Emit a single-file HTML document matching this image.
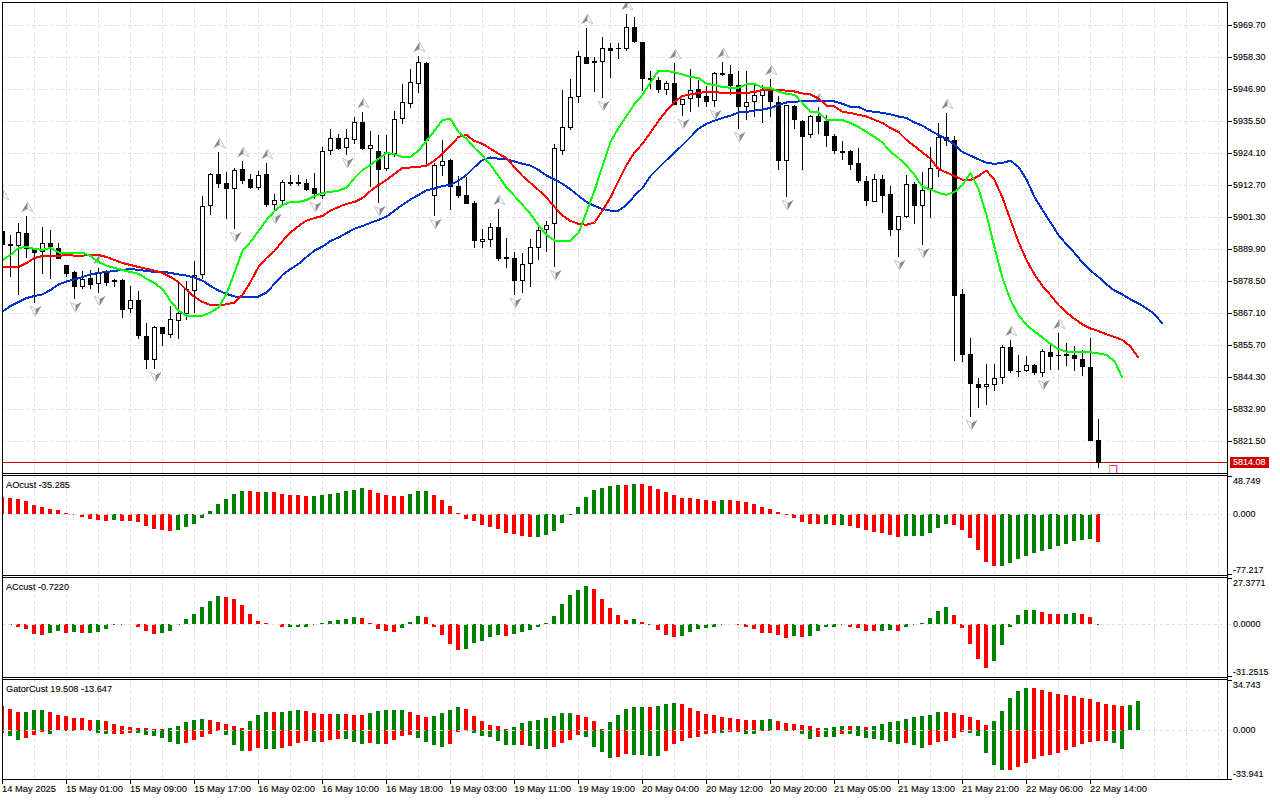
<!DOCTYPE html><html><head><meta charset="utf-8"><title>Chart</title><style>html,body{margin:0;padding:0;background:#fff;overflow:hidden}svg{display:block}text{font-family:"Liberation Sans",sans-serif;font-size:9.5px;fill:#000;stroke:#000;stroke-width:0.1px}</style></head><body>
<svg width="1280" height="800" viewBox="0 0 1280 800">
<rect width="1280" height="800" fill="#fff"/>
<g stroke="#dedede" stroke-width="1" stroke-dasharray="3 3" shape-rendering="crispEdges" fill="none">
<path d="M34.5 2V473"/>
<path d="M66.5 2V473"/>
<path d="M98.5 2V473"/>
<path d="M130.5 2V473"/>
<path d="M162.5 2V473"/>
<path d="M194.5 2V473"/>
<path d="M226.5 2V473"/>
<path d="M258.5 2V473"/>
<path d="M290.5 2V473"/>
<path d="M322.5 2V473"/>
<path d="M354.5 2V473"/>
<path d="M386.5 2V473"/>
<path d="M418.5 2V473"/>
<path d="M450.5 2V473"/>
<path d="M482.5 2V473"/>
<path d="M514.5 2V473"/>
<path d="M546.5 2V473"/>
<path d="M578.5 2V473"/>
<path d="M610.5 2V473"/>
<path d="M642.5 2V473"/>
<path d="M674.5 2V473"/>
<path d="M706.5 2V473"/>
<path d="M738.5 2V473"/>
<path d="M770.5 2V473"/>
<path d="M802.5 2V473"/>
<path d="M834.5 2V473"/>
<path d="M866.5 2V473"/>
<path d="M898.5 2V473"/>
<path d="M930.5 2V473"/>
<path d="M962.5 2V473"/>
<path d="M994.5 2V473"/>
<path d="M1026.5 2V473"/>
<path d="M1058.5 2V473"/>
<path d="M1090.5 2V473"/>
<path d="M1122.5 2V473"/>
<path d="M1154.5 2V473"/>
<path d="M1186.5 2V473"/>
<path d="M1218.5 2V473"/>
<path d="M34.5 475V575"/>
<path d="M66.5 475V575"/>
<path d="M98.5 475V575"/>
<path d="M130.5 475V575"/>
<path d="M162.5 475V575"/>
<path d="M194.5 475V575"/>
<path d="M226.5 475V575"/>
<path d="M258.5 475V575"/>
<path d="M290.5 475V575"/>
<path d="M322.5 475V575"/>
<path d="M354.5 475V575"/>
<path d="M386.5 475V575"/>
<path d="M418.5 475V575"/>
<path d="M450.5 475V575"/>
<path d="M482.5 475V575"/>
<path d="M514.5 475V575"/>
<path d="M546.5 475V575"/>
<path d="M578.5 475V575"/>
<path d="M610.5 475V575"/>
<path d="M642.5 475V575"/>
<path d="M674.5 475V575"/>
<path d="M706.5 475V575"/>
<path d="M738.5 475V575"/>
<path d="M770.5 475V575"/>
<path d="M802.5 475V575"/>
<path d="M834.5 475V575"/>
<path d="M866.5 475V575"/>
<path d="M898.5 475V575"/>
<path d="M930.5 475V575"/>
<path d="M962.5 475V575"/>
<path d="M994.5 475V575"/>
<path d="M1026.5 475V575"/>
<path d="M1058.5 475V575"/>
<path d="M1090.5 475V575"/>
<path d="M1122.5 475V575"/>
<path d="M1154.5 475V575"/>
<path d="M1186.5 475V575"/>
<path d="M1218.5 475V575"/>
<path d="M34.5 577V677"/>
<path d="M66.5 577V677"/>
<path d="M98.5 577V677"/>
<path d="M130.5 577V677"/>
<path d="M162.5 577V677"/>
<path d="M194.5 577V677"/>
<path d="M226.5 577V677"/>
<path d="M258.5 577V677"/>
<path d="M290.5 577V677"/>
<path d="M322.5 577V677"/>
<path d="M354.5 577V677"/>
<path d="M386.5 577V677"/>
<path d="M418.5 577V677"/>
<path d="M450.5 577V677"/>
<path d="M482.5 577V677"/>
<path d="M514.5 577V677"/>
<path d="M546.5 577V677"/>
<path d="M578.5 577V677"/>
<path d="M610.5 577V677"/>
<path d="M642.5 577V677"/>
<path d="M674.5 577V677"/>
<path d="M706.5 577V677"/>
<path d="M738.5 577V677"/>
<path d="M770.5 577V677"/>
<path d="M802.5 577V677"/>
<path d="M834.5 577V677"/>
<path d="M866.5 577V677"/>
<path d="M898.5 577V677"/>
<path d="M930.5 577V677"/>
<path d="M962.5 577V677"/>
<path d="M994.5 577V677"/>
<path d="M1026.5 577V677"/>
<path d="M1058.5 577V677"/>
<path d="M1090.5 577V677"/>
<path d="M1122.5 577V677"/>
<path d="M1154.5 577V677"/>
<path d="M1186.5 577V677"/>
<path d="M1218.5 577V677"/>
<path d="M34.5 679V779"/>
<path d="M66.5 679V779"/>
<path d="M98.5 679V779"/>
<path d="M130.5 679V779"/>
<path d="M162.5 679V779"/>
<path d="M194.5 679V779"/>
<path d="M226.5 679V779"/>
<path d="M258.5 679V779"/>
<path d="M290.5 679V779"/>
<path d="M322.5 679V779"/>
<path d="M354.5 679V779"/>
<path d="M386.5 679V779"/>
<path d="M418.5 679V779"/>
<path d="M450.5 679V779"/>
<path d="M482.5 679V779"/>
<path d="M514.5 679V779"/>
<path d="M546.5 679V779"/>
<path d="M578.5 679V779"/>
<path d="M610.5 679V779"/>
<path d="M642.5 679V779"/>
<path d="M674.5 679V779"/>
<path d="M706.5 679V779"/>
<path d="M738.5 679V779"/>
<path d="M770.5 679V779"/>
<path d="M802.5 679V779"/>
<path d="M834.5 679V779"/>
<path d="M866.5 679V779"/>
<path d="M898.5 679V779"/>
<path d="M930.5 679V779"/>
<path d="M962.5 679V779"/>
<path d="M994.5 679V779"/>
<path d="M1026.5 679V779"/>
<path d="M1058.5 679V779"/>
<path d="M1090.5 679V779"/>
<path d="M1122.5 679V779"/>
<path d="M1154.5 679V779"/>
<path d="M1186.5 679V779"/>
<path d="M1218.5 679V779"/>
<path d="M2 25.5H1227"/>
<path d="M2 57.5H1227"/>
<path d="M2 89.5H1227"/>
<path d="M2 121.5H1227"/>
<path d="M2 153.5H1227"/>
<path d="M2 185.5H1227"/>
<path d="M2 217.5H1227"/>
<path d="M2 249.5H1227"/>
<path d="M2 281.5H1227"/>
<path d="M2 313.5H1227"/>
<path d="M2 345.5H1227"/>
<path d="M2 377.5H1227"/>
<path d="M2 409.5H1227"/>
<path d="M2 441.5H1227"/>
</g>
<rect x="3" y="462" width="1224" height="1" fill="#d00000" shape-rendering="crispEdges"/>
<g shape-rendering="crispEdges" fill="#000">
<rect x="2" y="231" width="1" height="14"/>
<rect x="0" y="231" width="5" height="14"/>
<rect x="10" y="235" width="1" height="42"/>
<rect x="8" y="244" width="5" height="2"/>
<rect x="18" y="223" width="1" height="72"/>
<rect x="16" y="232" width="5" height="14"/><rect x="17" y="233" width="3" height="12" fill="#fff"/>
<rect x="26" y="216" width="1" height="42"/>
<rect x="24" y="233" width="5" height="16"/>
<rect x="34" y="248" width="1" height="55"/>
<rect x="32" y="248" width="5" height="5"/>
<rect x="42" y="227" width="1" height="47"/>
<rect x="40" y="243" width="5" height="9"/><rect x="41" y="244" width="3" height="7" fill="#fff"/>
<rect x="50" y="230" width="1" height="49"/>
<rect x="48" y="243" width="5" height="4"/>
<rect x="58" y="243" width="1" height="16"/>
<rect x="56" y="248" width="5" height="11"/>
<rect x="66" y="265" width="1" height="12"/>
<rect x="64" y="265" width="5" height="9"/>
<rect x="74" y="271" width="1" height="28"/>
<rect x="72" y="272" width="5" height="15"/>
<rect x="82" y="271" width="1" height="18"/>
<rect x="80" y="279" width="5" height="8"/><rect x="81" y="280" width="3" height="6" fill="#fff"/>
<rect x="90" y="270" width="1" height="19"/>
<rect x="88" y="278" width="5" height="7"/>
<rect x="98" y="268" width="1" height="25"/>
<rect x="96" y="272" width="5" height="12"/><rect x="97" y="273" width="3" height="10" fill="#fff"/>
<rect x="106" y="270" width="1" height="16"/>
<rect x="104" y="273" width="5" height="10"/>
<rect x="114" y="279" width="1" height="8"/>
<rect x="112" y="280" width="5" height="2"/>
<rect x="122" y="279" width="1" height="39"/>
<rect x="120" y="280" width="5" height="30"/>
<rect x="130" y="286" width="1" height="27"/>
<rect x="128" y="300" width="5" height="9"/><rect x="129" y="301" width="3" height="7" fill="#fff"/>
<rect x="138" y="291" width="1" height="48"/>
<rect x="136" y="300" width="5" height="36"/>
<rect x="146" y="323" width="1" height="46"/>
<rect x="144" y="336" width="5" height="24"/>
<rect x="154" y="326" width="1" height="43"/>
<rect x="152" y="327" width="5" height="33"/><rect x="153" y="328" width="3" height="31" fill="#fff"/>
<rect x="162" y="327" width="1" height="19"/>
<rect x="160" y="327" width="5" height="7"/>
<rect x="170" y="306" width="1" height="32"/>
<rect x="168" y="319" width="5" height="16"/><rect x="169" y="320" width="3" height="14" fill="#fff"/>
<rect x="178" y="283" width="1" height="56"/>
<rect x="176" y="313" width="5" height="8"/><rect x="177" y="314" width="3" height="6" fill="#fff"/>
<rect x="186" y="281" width="1" height="39"/>
<rect x="184" y="289" width="5" height="25"/><rect x="185" y="290" width="3" height="23" fill="#fff"/>
<rect x="194" y="261" width="1" height="52"/>
<rect x="192" y="275" width="5" height="16"/><rect x="193" y="276" width="3" height="14" fill="#fff"/>
<rect x="202" y="196" width="1" height="83"/>
<rect x="200" y="206" width="5" height="69"/><rect x="201" y="207" width="3" height="67" fill="#fff"/>
<rect x="210" y="173" width="1" height="42"/>
<rect x="208" y="174" width="5" height="32"/><rect x="209" y="175" width="3" height="30" fill="#fff"/>
<rect x="218" y="152" width="1" height="36"/>
<rect x="216" y="174" width="5" height="10"/>
<rect x="226" y="172" width="1" height="47"/>
<rect x="224" y="183" width="5" height="6"/>
<rect x="234" y="168" width="1" height="61"/>
<rect x="232" y="170" width="5" height="19"/><rect x="233" y="171" width="3" height="17" fill="#fff"/>
<rect x="242" y="161" width="1" height="23"/>
<rect x="240" y="169" width="5" height="12"/>
<rect x="250" y="174" width="1" height="15"/>
<rect x="248" y="179" width="5" height="9"/>
<rect x="258" y="171" width="1" height="19"/>
<rect x="256" y="175" width="5" height="13"/><rect x="257" y="176" width="3" height="11" fill="#fff"/>
<rect x="266" y="163" width="1" height="44"/>
<rect x="264" y="174" width="5" height="31"/>
<rect x="274" y="194" width="1" height="17"/>
<rect x="272" y="200" width="5" height="5"/><rect x="273" y="201" width="3" height="3" fill="#fff"/>
<rect x="282" y="180" width="1" height="25"/>
<rect x="280" y="182" width="5" height="19"/><rect x="281" y="183" width="3" height="17" fill="#fff"/>
<rect x="290" y="175" width="1" height="11"/>
<rect x="288" y="182" width="5" height="2"/>
<rect x="298" y="175" width="1" height="11"/>
<rect x="296" y="182" width="5" height="2"/>
<rect x="306" y="179" width="1" height="12"/>
<rect x="304" y="183" width="5" height="7"/>
<rect x="314" y="173" width="1" height="26"/>
<rect x="312" y="188" width="5" height="6"/>
<rect x="322" y="147" width="1" height="52"/>
<rect x="320" y="151" width="5" height="45"/><rect x="321" y="152" width="3" height="43" fill="#fff"/>
<rect x="330" y="129" width="1" height="26"/>
<rect x="328" y="138" width="5" height="13"/><rect x="329" y="139" width="3" height="11" fill="#fff"/>
<rect x="338" y="134" width="1" height="16"/>
<rect x="336" y="138" width="5" height="11"/>
<rect x="346" y="129" width="1" height="26"/>
<rect x="344" y="138" width="5" height="10"/><rect x="345" y="139" width="3" height="8" fill="#fff"/>
<rect x="354" y="117" width="1" height="27"/>
<rect x="352" y="122" width="5" height="18"/><rect x="353" y="123" width="3" height="16" fill="#fff"/>
<rect x="362" y="112" width="1" height="38"/>
<rect x="360" y="122" width="5" height="27"/>
<rect x="370" y="131" width="1" height="56"/>
<rect x="368" y="145" width="5" height="4"/><rect x="369" y="146" width="3" height="2" fill="#fff"/>
<rect x="378" y="135" width="1" height="68"/>
<rect x="376" y="151" width="5" height="19"/>
<rect x="386" y="135" width="1" height="36"/>
<rect x="384" y="152" width="5" height="17"/><rect x="385" y="153" width="3" height="15" fill="#fff"/>
<rect x="394" y="111" width="1" height="46"/>
<rect x="392" y="119" width="5" height="35"/><rect x="393" y="120" width="3" height="33" fill="#fff"/>
<rect x="402" y="84" width="1" height="40"/>
<rect x="400" y="102" width="5" height="17"/><rect x="401" y="103" width="3" height="15" fill="#fff"/>
<rect x="410" y="69" width="1" height="39"/>
<rect x="408" y="82" width="5" height="22"/><rect x="409" y="83" width="3" height="20" fill="#fff"/>
<rect x="418" y="56" width="1" height="37"/>
<rect x="416" y="62" width="5" height="22"/><rect x="417" y="63" width="3" height="20" fill="#fff"/>
<rect x="426" y="62" width="1" height="102"/>
<rect x="424" y="63" width="5" height="78"/>
<rect x="434" y="163" width="1" height="53"/>
<rect x="432" y="165" width="5" height="31"/><rect x="433" y="166" width="3" height="29" fill="#fff"/>
<rect x="442" y="140" width="1" height="36"/>
<rect x="440" y="161" width="5" height="5"/><rect x="441" y="162" width="3" height="3" fill="#fff"/>
<rect x="450" y="159" width="1" height="51"/>
<rect x="448" y="160" width="5" height="27"/>
<rect x="458" y="176" width="1" height="22"/>
<rect x="456" y="186" width="5" height="10"/>
<rect x="466" y="177" width="1" height="27"/>
<rect x="464" y="195" width="5" height="9"/>
<rect x="474" y="201" width="1" height="47"/>
<rect x="472" y="203" width="5" height="38"/>
<rect x="482" y="229" width="1" height="19"/>
<rect x="480" y="239" width="5" height="3"/><rect x="481" y="240" width="3" height="1" fill="#fff"/>
<rect x="490" y="223" width="1" height="24"/>
<rect x="488" y="227" width="5" height="13"/><rect x="489" y="228" width="3" height="11" fill="#fff"/>
<rect x="498" y="209" width="1" height="52"/>
<rect x="496" y="227" width="5" height="32"/>
<rect x="506" y="238" width="1" height="30"/>
<rect x="504" y="257" width="5" height="2"/>
<rect x="514" y="252" width="1" height="43"/>
<rect x="512" y="258" width="5" height="23"/>
<rect x="522" y="253" width="1" height="40"/>
<rect x="520" y="264" width="5" height="17"/><rect x="521" y="265" width="3" height="15" fill="#fff"/>
<rect x="530" y="239" width="1" height="48"/>
<rect x="528" y="247" width="5" height="17"/><rect x="529" y="248" width="3" height="15" fill="#fff"/>
<rect x="538" y="224" width="1" height="36"/>
<rect x="536" y="230" width="5" height="18"/><rect x="537" y="231" width="3" height="16" fill="#fff"/>
<rect x="546" y="221" width="1" height="31"/>
<rect x="544" y="225" width="5" height="5"/><rect x="545" y="226" width="3" height="3" fill="#fff"/>
<rect x="554" y="144" width="1" height="123"/>
<rect x="552" y="148" width="5" height="76"/><rect x="553" y="149" width="3" height="74" fill="#fff"/>
<rect x="562" y="90" width="1" height="65"/>
<rect x="560" y="127" width="5" height="24"/><rect x="561" y="128" width="3" height="22" fill="#fff"/>
<rect x="570" y="79" width="1" height="51"/>
<rect x="568" y="97" width="5" height="31"/><rect x="569" y="98" width="3" height="29" fill="#fff"/>
<rect x="578" y="51" width="1" height="52"/>
<rect x="576" y="56" width="5" height="41"/><rect x="577" y="57" width="3" height="39" fill="#fff"/>
<rect x="586" y="28" width="1" height="36"/>
<rect x="584" y="57" width="5" height="7"/>
<rect x="594" y="57" width="1" height="35"/>
<rect x="592" y="61" width="5" height="2"/>
<rect x="602" y="37" width="1" height="61"/>
<rect x="600" y="48" width="5" height="14"/><rect x="601" y="49" width="3" height="12" fill="#fff"/>
<rect x="610" y="43" width="1" height="35"/>
<rect x="608" y="48" width="5" height="3"/>
<rect x="618" y="43" width="1" height="16"/>
<rect x="616" y="48" width="5" height="1"/>
<rect x="626" y="14" width="1" height="37"/>
<rect x="624" y="27" width="5" height="22"/><rect x="625" y="28" width="3" height="20" fill="#fff"/>
<rect x="634" y="17" width="1" height="26"/>
<rect x="632" y="27" width="5" height="15"/>
<rect x="642" y="42" width="1" height="49"/>
<rect x="640" y="42" width="5" height="37"/>
<rect x="650" y="71" width="1" height="18"/>
<rect x="648" y="78" width="5" height="2"/>
<rect x="658" y="77" width="1" height="16"/>
<rect x="656" y="80" width="5" height="10"/>
<rect x="666" y="81" width="1" height="14"/>
<rect x="664" y="83" width="5" height="7"/><rect x="665" y="84" width="3" height="5" fill="#fff"/>
<rect x="674" y="63" width="1" height="42"/>
<rect x="672" y="83" width="5" height="22"/>
<rect x="682" y="99" width="1" height="17"/>
<rect x="680" y="99" width="5" height="6"/><rect x="681" y="100" width="3" height="4" fill="#fff"/>
<rect x="690" y="69" width="1" height="43"/>
<rect x="688" y="90" width="5" height="9"/><rect x="689" y="91" width="3" height="7" fill="#fff"/>
<rect x="698" y="80" width="1" height="27"/>
<rect x="696" y="89" width="5" height="9"/>
<rect x="706" y="86" width="1" height="21"/>
<rect x="704" y="96" width="5" height="6"/>
<rect x="714" y="72" width="1" height="35"/>
<rect x="712" y="73" width="5" height="28"/><rect x="713" y="74" width="3" height="26" fill="#fff"/>
<rect x="722" y="62" width="1" height="14"/>
<rect x="720" y="73" width="5" height="2"/>
<rect x="730" y="65" width="1" height="30"/>
<rect x="728" y="74" width="5" height="12"/>
<rect x="738" y="71" width="1" height="58"/>
<rect x="736" y="85" width="5" height="22"/>
<rect x="746" y="71" width="1" height="49"/>
<rect x="744" y="102" width="5" height="5"/><rect x="745" y="103" width="3" height="3" fill="#fff"/>
<rect x="754" y="85" width="1" height="32"/>
<rect x="752" y="95" width="5" height="7"/><rect x="753" y="96" width="3" height="5" fill="#fff"/>
<rect x="762" y="85" width="1" height="38"/>
<rect x="760" y="90" width="5" height="6"/><rect x="761" y="91" width="3" height="4" fill="#fff"/>
<rect x="770" y="79" width="1" height="38"/>
<rect x="768" y="91" width="5" height="11"/>
<rect x="778" y="96" width="1" height="74"/>
<rect x="776" y="102" width="5" height="59"/>
<rect x="786" y="105" width="1" height="92"/>
<rect x="784" y="105" width="5" height="56"/><rect x="785" y="106" width="3" height="54" fill="#fff"/>
<rect x="794" y="105" width="1" height="24"/>
<rect x="792" y="106" width="5" height="14"/>
<rect x="802" y="120" width="1" height="50"/>
<rect x="800" y="121" width="5" height="16"/>
<rect x="810" y="115" width="1" height="23"/>
<rect x="808" y="116" width="5" height="19"/><rect x="809" y="117" width="3" height="17" fill="#fff"/>
<rect x="818" y="107" width="1" height="27"/>
<rect x="816" y="116" width="5" height="6"/>
<rect x="826" y="115" width="1" height="32"/>
<rect x="824" y="121" width="5" height="15"/>
<rect x="834" y="134" width="1" height="20"/>
<rect x="832" y="136" width="5" height="15"/>
<rect x="842" y="141" width="1" height="19"/>
<rect x="840" y="151" width="5" height="2"/>
<rect x="850" y="150" width="1" height="20"/>
<rect x="848" y="151" width="5" height="14"/>
<rect x="858" y="148" width="1" height="35"/>
<rect x="856" y="163" width="5" height="18"/>
<rect x="866" y="176" width="1" height="30"/>
<rect x="864" y="181" width="5" height="20"/>
<rect x="874" y="174" width="1" height="28"/>
<rect x="872" y="179" width="5" height="23"/><rect x="873" y="180" width="3" height="21" fill="#fff"/>
<rect x="882" y="175" width="1" height="38"/>
<rect x="880" y="179" width="5" height="17"/>
<rect x="890" y="186" width="1" height="50"/>
<rect x="888" y="194" width="5" height="36"/>
<rect x="898" y="216" width="1" height="41"/>
<rect x="896" y="216" width="5" height="14"/><rect x="897" y="217" width="3" height="12" fill="#fff"/>
<rect x="906" y="175" width="1" height="43"/>
<rect x="904" y="184" width="5" height="33"/><rect x="905" y="185" width="3" height="31" fill="#fff"/>
<rect x="914" y="182" width="1" height="42"/>
<rect x="912" y="184" width="5" height="22"/>
<rect x="922" y="172" width="1" height="73"/>
<rect x="920" y="190" width="5" height="16"/><rect x="921" y="191" width="3" height="14" fill="#fff"/>
<rect x="930" y="147" width="1" height="71"/>
<rect x="928" y="168" width="5" height="21"/><rect x="929" y="169" width="3" height="19" fill="#fff"/>
<rect x="938" y="123" width="1" height="54"/>
<rect x="936" y="137" width="5" height="32"/><rect x="937" y="138" width="3" height="30" fill="#fff"/>
<rect x="946" y="113" width="1" height="33"/>
<rect x="944" y="137" width="5" height="4"/>
<rect x="954" y="136" width="1" height="225"/>
<rect x="952" y="140" width="5" height="156"/>
<rect x="962" y="289" width="1" height="73"/>
<rect x="960" y="294" width="5" height="61"/>
<rect x="970" y="338" width="1" height="79"/>
<rect x="968" y="354" width="5" height="30"/>
<rect x="978" y="378" width="1" height="30"/>
<rect x="976" y="384" width="5" height="4"/>
<rect x="986" y="364" width="1" height="41"/>
<rect x="984" y="384" width="5" height="3"/><rect x="985" y="385" width="3" height="1" fill="#fff"/>
<rect x="994" y="364" width="1" height="27"/>
<rect x="992" y="378" width="5" height="7"/><rect x="993" y="379" width="3" height="5" fill="#fff"/>
<rect x="1002" y="345" width="1" height="39"/>
<rect x="1000" y="347" width="5" height="31"/><rect x="1001" y="348" width="3" height="29" fill="#fff"/>
<rect x="1010" y="340" width="1" height="33"/>
<rect x="1008" y="347" width="5" height="24"/>
<rect x="1018" y="355" width="1" height="22"/>
<rect x="1016" y="371" width="5" height="1"/>
<rect x="1026" y="356" width="1" height="16"/>
<rect x="1024" y="365" width="5" height="6"/><rect x="1025" y="366" width="3" height="4" fill="#fff"/>
<rect x="1034" y="364" width="1" height="11"/>
<rect x="1032" y="365" width="5" height="8"/>
<rect x="1042" y="349" width="1" height="28"/>
<rect x="1040" y="351" width="5" height="22"/><rect x="1041" y="352" width="3" height="20" fill="#fff"/>
<rect x="1050" y="344" width="1" height="26"/>
<rect x="1048" y="352" width="5" height="5"/>
<rect x="1058" y="333" width="1" height="37"/>
<rect x="1056" y="355" width="5" height="1"/>
<rect x="1066" y="343" width="1" height="23"/>
<rect x="1064" y="354" width="5" height="2"/>
<rect x="1074" y="346" width="1" height="25"/>
<rect x="1072" y="355" width="5" height="4"/>
<rect x="1082" y="350" width="1" height="26"/>
<rect x="1080" y="359" width="5" height="8"/>
<rect x="1090" y="338" width="1" height="103"/>
<rect x="1088" y="367" width="5" height="74"/>
<rect x="1098" y="419" width="1" height="49"/>
<rect x="1096" y="440" width="5" height="23"/>
</g>
<clipPath id="mc"><rect x="3" y="3" width="1224" height="470"/></clipPath><g clip-path="url(#mc)">
<path d="M3.5 190L-2.7 200L3.5 197Z" fill="#8a8a8a"/><path d="M3.5 190L9.0 200L3.5 197" fill="none" stroke="#c0c0d0" stroke-width="0.9"/>
<path d="M27.5 202L21.3 212L27.5 209Z" fill="#8a8a8a"/><path d="M27.5 202L33.0 212L27.5 209" fill="none" stroke="#c0c0d0" stroke-width="0.9"/>
<path d="M99.5 254L93.3 264L99.5 261Z" fill="#8a8a8a"/><path d="M99.5 254L105.0 264L99.5 261" fill="none" stroke="#c0c0d0" stroke-width="0.9"/>
<path d="M219.5 138L213.3 148L219.5 145Z" fill="#8a8a8a"/><path d="M219.5 138L225.0 148L219.5 145" fill="none" stroke="#c0c0d0" stroke-width="0.9"/>
<path d="M243.5 147L237.3 157L243.5 154Z" fill="#8a8a8a"/><path d="M243.5 147L249.0 157L243.5 154" fill="none" stroke="#c0c0d0" stroke-width="0.9"/>
<path d="M267.5 149L261.3 159L267.5 156Z" fill="#8a8a8a"/><path d="M267.5 149L273.0 159L267.5 156" fill="none" stroke="#c0c0d0" stroke-width="0.9"/>
<path d="M363.5 98L357.3 108L363.5 105Z" fill="#8a8a8a"/><path d="M363.5 98L369.0 108L363.5 105" fill="none" stroke="#c0c0d0" stroke-width="0.9"/>
<path d="M419.5 42L413.3 52L419.5 49Z" fill="#8a8a8a"/><path d="M419.5 42L425.0 52L419.5 49" fill="none" stroke="#c0c0d0" stroke-width="0.9"/>
<path d="M499.5 195L493.3 205L499.5 202Z" fill="#8a8a8a"/><path d="M499.5 195L505.0 205L499.5 202" fill="none" stroke="#c0c0d0" stroke-width="0.9"/>
<path d="M587.5 14L581.3 24L587.5 21Z" fill="#8a8a8a"/><path d="M587.5 14L593.0 24L587.5 21" fill="none" stroke="#c0c0d0" stroke-width="0.9"/>
<path d="M627.5 0L621.3 10L627.5 7Z" fill="#8a8a8a"/><path d="M627.5 0L633.0 10L627.5 7" fill="none" stroke="#c0c0d0" stroke-width="0.9"/>
<path d="M675.5 49L669.3 59L675.5 56Z" fill="#8a8a8a"/><path d="M675.5 49L681.0 59L675.5 56" fill="none" stroke="#c0c0d0" stroke-width="0.9"/>
<path d="M723.5 48L717.3 58L723.5 55Z" fill="#8a8a8a"/><path d="M723.5 48L729.0 58L723.5 55" fill="none" stroke="#c0c0d0" stroke-width="0.9"/>
<path d="M771.5 65L765.3 75L771.5 72Z" fill="#8a8a8a"/><path d="M771.5 65L777.0 75L771.5 72" fill="none" stroke="#c0c0d0" stroke-width="0.9"/>
<path d="M819.5 93L813.3 103L819.5 100Z" fill="#8a8a8a"/><path d="M819.5 93L825.0 103L819.5 100" fill="none" stroke="#c0c0d0" stroke-width="0.9"/>
<path d="M947.5 99L941.3 109L947.5 106Z" fill="#8a8a8a"/><path d="M947.5 99L953.0 109L947.5 106" fill="none" stroke="#c0c0d0" stroke-width="0.9"/>
<path d="M1011.5 326L1005.3 336L1011.5 333Z" fill="#8a8a8a"/><path d="M1011.5 326L1017.0 336L1011.5 333" fill="none" stroke="#c0c0d0" stroke-width="0.9"/>
<path d="M1059.5 319L1053.3 329L1059.5 326Z" fill="#8a8a8a"/><path d="M1059.5 319L1065.0 329L1059.5 326" fill="none" stroke="#c0c0d0" stroke-width="0.9"/>
<path d="M35.5 316L41.7 306L35.5 309Z" fill="#8a8a8a"/><path d="M35.5 316L30.0 306L35.5 309" fill="none" stroke="#c0c0d0" stroke-width="0.9"/>
<path d="M75.5 312L81.7 302L75.5 305Z" fill="#8a8a8a"/><path d="M75.5 312L70.0 302L75.5 305" fill="none" stroke="#c0c0d0" stroke-width="0.9"/>
<path d="M99.5 306L105.7 296L99.5 299Z" fill="#8a8a8a"/><path d="M99.5 306L94.0 296L99.5 299" fill="none" stroke="#c0c0d0" stroke-width="0.9"/>
<path d="M155.5 382L161.7 372L155.5 375Z" fill="#8a8a8a"/><path d="M155.5 382L150.0 372L155.5 375" fill="none" stroke="#c0c0d0" stroke-width="0.9"/>
<path d="M235.5 242L241.7 232L235.5 235Z" fill="#8a8a8a"/><path d="M235.5 242L230.0 232L235.5 235" fill="none" stroke="#c0c0d0" stroke-width="0.9"/>
<path d="M275.5 224L281.7 214L275.5 217Z" fill="#8a8a8a"/><path d="M275.5 224L270.0 214L275.5 217" fill="none" stroke="#c0c0d0" stroke-width="0.9"/>
<path d="M315.5 212L321.7 202L315.5 205Z" fill="#8a8a8a"/><path d="M315.5 212L310.0 202L315.5 205" fill="none" stroke="#c0c0d0" stroke-width="0.9"/>
<path d="M347.5 168L353.7 158L347.5 161Z" fill="#8a8a8a"/><path d="M347.5 168L342.0 158L347.5 161" fill="none" stroke="#c0c0d0" stroke-width="0.9"/>
<path d="M379.5 216L385.7 206L379.5 209Z" fill="#8a8a8a"/><path d="M379.5 216L374.0 206L379.5 209" fill="none" stroke="#c0c0d0" stroke-width="0.9"/>
<path d="M435.5 229L441.7 219L435.5 222Z" fill="#8a8a8a"/><path d="M435.5 229L430.0 219L435.5 222" fill="none" stroke="#c0c0d0" stroke-width="0.9"/>
<path d="M515.5 308L521.7 298L515.5 301Z" fill="#8a8a8a"/><path d="M515.5 308L510.0 298L515.5 301" fill="none" stroke="#c0c0d0" stroke-width="0.9"/>
<path d="M555.5 280L561.7 270L555.5 273Z" fill="#8a8a8a"/><path d="M555.5 280L550.0 270L555.5 273" fill="none" stroke="#c0c0d0" stroke-width="0.9"/>
<path d="M603.5 111L609.7 101L603.5 104Z" fill="#8a8a8a"/><path d="M603.5 111L598.0 101L603.5 104" fill="none" stroke="#c0c0d0" stroke-width="0.9"/>
<path d="M683.5 129L689.7 119L683.5 122Z" fill="#8a8a8a"/><path d="M683.5 129L678.0 119L683.5 122" fill="none" stroke="#c0c0d0" stroke-width="0.9"/>
<path d="M715.5 120L721.7 110L715.5 113Z" fill="#8a8a8a"/><path d="M715.5 120L710.0 110L715.5 113" fill="none" stroke="#c0c0d0" stroke-width="0.9"/>
<path d="M739.5 142L745.7 132L739.5 135Z" fill="#8a8a8a"/><path d="M739.5 142L734.0 132L739.5 135" fill="none" stroke="#c0c0d0" stroke-width="0.9"/>
<path d="M787.5 210L793.7 200L787.5 203Z" fill="#8a8a8a"/><path d="M787.5 210L782.0 200L787.5 203" fill="none" stroke="#c0c0d0" stroke-width="0.9"/>
<path d="M899.5 270L905.7 260L899.5 263Z" fill="#8a8a8a"/><path d="M899.5 270L894.0 260L899.5 263" fill="none" stroke="#c0c0d0" stroke-width="0.9"/>
<path d="M923.5 258L929.7 248L923.5 251Z" fill="#8a8a8a"/><path d="M923.5 258L918.0 248L923.5 251" fill="none" stroke="#c0c0d0" stroke-width="0.9"/>
<path d="M971.5 430L977.7 420L971.5 423Z" fill="#8a8a8a"/><path d="M971.5 430L966.0 420L971.5 423" fill="none" stroke="#c0c0d0" stroke-width="0.9"/>
<path d="M1043.5 390L1049.7 380L1043.5 383Z" fill="#8a8a8a"/><path d="M1043.5 390L1038.0 380L1043.5 383" fill="none" stroke="#c0c0d0" stroke-width="0.9"/>
</g>
<polyline points="2.5,311.5 10.5,306.0 18.5,302.0 26.5,298.0 34.5,296.0 42.5,294.4 50.5,290.0 58.5,284.4 66.5,281.5 74.5,279.4 82.5,277.0 90.5,274.4 98.5,273.0 106.5,272.0 114.5,271.0 122.5,270.0 130.5,269.0 138.5,270.0 146.5,271.0 154.5,272.0 162.5,271.7 170.5,273.0 178.5,274.4 186.5,275.6 194.5,277.5 202.5,280.6 210.5,286.0 218.5,290.6 226.5,293.8 234.5,296.5 242.5,296.5 250.5,296.5 258.5,296.5 266.5,292.5 274.5,283.8 282.5,275.0 290.5,269.0 298.5,264.0 306.5,257.0 314.5,250.6 322.5,246.5 330.5,241.0 338.5,237.5 346.5,233.0 354.5,228.8 362.5,226.0 370.5,222.8 378.5,220.0 386.5,216.5 394.5,210.6 402.5,204.8 410.5,199.4 418.5,195.0 426.5,190.3 434.5,188.5 442.5,186.0 450.5,184.8 458.5,180.6 466.5,175.0 474.5,167.0 482.5,160.0 490.5,157.5 498.5,158.8 506.5,159.4 514.5,161.5 522.5,163.8 530.5,165.6 538.5,170.0 546.5,175.6 554.5,179.4 562.5,183.8 570.5,189.4 578.5,195.8 586.5,202.0 594.5,206.0 602.5,209.0 610.5,210.6 618.5,210.6 626.5,205.0 634.5,195.8 642.5,188.0 650.5,176.0 658.5,168.0 666.5,160.0 674.5,152.8 682.5,145.0 690.5,137.0 698.5,128.8 706.5,123.8 714.5,120.6 722.5,118.0 730.5,115.6 738.5,112.5 746.5,112.0 754.5,110.6 762.5,109.4 770.5,108.0 778.5,105.0 786.5,102.5 794.5,101.9 802.5,101.0 810.5,101.0 818.5,101.0 826.5,101.0 834.5,101.5 842.5,103.8 850.5,106.9 858.5,107.0 866.5,110.6 874.5,111.9 882.5,112.8 890.5,114.4 898.5,116.5 906.5,118.0 914.5,122.5 922.5,125.6 930.5,130.6 938.5,135.0 946.5,139.2 954.5,144.7 962.5,152.0 970.5,155.6 978.5,159.4 986.5,162.8 994.5,163.8 1002.5,163.0 1010.5,160.6 1018.5,167.0 1026.5,179.4 1034.5,197.0 1042.5,210.0 1050.5,222.5 1058.5,235.0 1066.5,244.4 1074.5,253.0 1082.5,262.5 1090.5,270.6 1098.5,277.0 1106.5,284.4 1114.5,290.6 1122.5,294.4 1130.5,299.6 1138.5,303.4 1146.5,308.4 1154.5,314.0 1162.5,323.8" fill="none" stroke="#0033cc" stroke-width="2" stroke-linejoin="round" shape-rendering="crispEdges"/>
<polyline points="2.5,267.0 10.5,267.0 18.5,267.0 26.5,263.0 34.5,258.0 42.5,256.0 50.5,256.0 58.5,256.0 66.5,255.0 74.5,255.6 82.5,255.6 90.5,255.0 98.5,255.0 106.5,257.0 114.5,260.0 122.5,263.0 130.5,265.0 138.5,267.0 146.5,268.8 154.5,270.6 162.5,273.0 170.5,277.0 178.5,282.0 186.5,290.0 194.5,297.0 202.5,302.0 210.5,305.0 218.5,305.0 226.5,304.4 234.5,302.5 242.5,295.0 250.5,282.0 258.5,267.0 266.5,258.0 274.5,251.0 282.5,241.0 290.5,232.5 298.5,226.0 306.5,220.6 314.5,218.0 322.5,216.0 330.5,210.6 338.5,207.0 346.5,203.8 354.5,202.0 362.5,198.0 370.5,191.0 378.5,185.0 386.5,180.0 394.5,173.8 402.5,168.0 410.5,167.5 418.5,166.9 426.5,165.6 434.5,160.6 442.5,153.8 450.5,145.6 458.5,136.9 466.5,135.0 474.5,141.0 482.5,143.8 490.5,148.8 498.5,153.8 506.5,158.0 514.5,167.5 522.5,176.0 530.5,183.0 538.5,190.0 546.5,197.5 554.5,207.0 562.5,215.6 570.5,221.0 578.5,223.8 586.5,224.8 594.5,222.5 602.5,210.6 610.5,197.5 618.5,181.0 626.5,165.0 634.5,152.5 642.5,143.8 650.5,132.5 658.5,121.0 666.5,110.6 674.5,101.9 682.5,96.0 690.5,94.4 698.5,93.0 706.5,92.0 714.5,91.9 722.5,93.0 730.5,93.0 738.5,93.0 746.5,93.0 754.5,92.0 762.5,90.0 770.5,89.8 778.5,90.0 786.5,90.6 794.5,91.5 802.5,93.5 810.5,94.4 818.5,98.5 826.5,105.6 834.5,106.5 842.5,111.9 850.5,113.0 858.5,114.8 866.5,116.5 874.5,119.8 882.5,123.0 890.5,128.0 898.5,131.9 906.5,140.0 914.5,146.0 922.5,152.5 930.5,158.8 938.5,169.0 946.5,172.5 954.5,176.0 962.5,179.8 970.5,180.0 978.5,176.0 986.5,170.6 994.5,180.0 1002.5,197.5 1010.5,220.0 1018.5,242.0 1026.5,260.0 1034.5,274.5 1042.5,286.0 1050.5,295.0 1058.5,305.0 1066.5,312.5 1074.5,318.8 1082.5,324.4 1090.5,328.5 1098.5,331.0 1106.5,334.4 1114.5,337.0 1122.5,340.0 1130.5,346.5 1138.5,358.0" fill="none" stroke="#ff0000" stroke-width="2" stroke-linejoin="round" shape-rendering="crispEdges"/>
<polyline points="2.5,260.0 10.5,255.0 18.5,248.0 26.5,247.0 34.5,248.8 42.5,250.0 50.5,247.8 58.5,252.5 66.5,252.5 74.5,252.5 82.5,252.5 90.5,256.0 98.5,262.0 106.5,265.6 114.5,268.0 122.5,270.0 130.5,272.0 138.5,273.8 146.5,278.8 154.5,283.0 162.5,289.0 170.5,301.0 178.5,310.6 186.5,315.6 194.5,316.0 202.5,315.6 210.5,312.5 218.5,307.5 226.5,293.8 234.5,272.5 242.5,251.0 250.5,242.0 258.5,231.0 266.5,220.0 274.5,211.0 282.5,205.0 290.5,202.0 298.5,202.0 306.5,200.0 314.5,196.0 322.5,193.0 330.5,192.0 338.5,190.6 346.5,187.8 354.5,178.0 362.5,170.0 370.5,165.0 378.5,158.8 386.5,153.0 394.5,154.4 402.5,156.9 410.5,156.9 418.5,150.6 426.5,141.0 434.5,130.6 442.5,120.0 450.5,118.8 458.5,132.0 466.5,138.8 474.5,148.0 482.5,155.6 490.5,165.0 498.5,176.0 506.5,187.5 514.5,196.0 522.5,204.8 530.5,214.0 538.5,225.0 546.5,235.0 554.5,240.6 562.5,240.6 570.5,240.6 578.5,233.0 586.5,212.0 594.5,190.6 602.5,166.0 610.5,142.0 618.5,128.0 626.5,116.0 634.5,103.8 642.5,95.0 650.5,82.3 658.5,70.8 666.5,70.8 674.5,72.3 682.5,74.4 690.5,77.0 698.5,78.0 706.5,83.8 714.5,85.0 722.5,87.0 730.5,87.8 738.5,87.8 746.5,84.4 754.5,84.0 762.5,87.5 770.5,88.0 778.5,91.5 786.5,93.8 794.5,94.8 802.5,103.0 810.5,112.0 818.5,112.2 826.5,119.8 834.5,120.0 842.5,120.2 850.5,123.0 858.5,126.9 866.5,131.9 874.5,136.9 882.5,142.5 890.5,151.9 898.5,158.0 906.5,165.6 914.5,175.0 922.5,186.9 930.5,189.4 938.5,192.8 946.5,194.8 954.5,192.0 962.5,185.0 970.5,173.0 978.5,188.8 986.5,215.0 994.5,247.5 1002.5,278.0 1010.5,300.0 1018.5,315.0 1026.5,325.0 1034.5,331.5 1042.5,337.5 1050.5,344.0 1058.5,349.0 1066.5,351.7 1074.5,352.0 1082.5,352.0 1090.5,352.3 1098.5,353.4 1106.5,355.0 1114.5,361.0 1122.5,378.0" fill="none" stroke="#00ff00" stroke-width="2" stroke-linejoin="round" shape-rendering="crispEdges"/>
<g shape-rendering="crispEdges"><rect x="1109" y="465" width="1" height="8" fill="#ffa860"/><rect x="1110" y="465" width="7" height="1" fill="#ff3040"/><rect x="1116" y="465" width="1" height="8" fill="#ff40b0"/><rect x="1117" y="465" width="1" height="8" fill="#ffc0e8"/></g>
<g shape-rendering="crispEdges">
<rect x="0" y="497" width="4" height="17" fill="#ff0000"/>
<rect x="8" y="498" width="4" height="16" fill="#ff0000"/>
<rect x="16" y="499" width="4" height="15" fill="#ff0000"/>
<rect x="24" y="501" width="4" height="13" fill="#ff0000"/>
<rect x="32" y="505" width="4" height="9" fill="#ff0000"/>
<rect x="40" y="507" width="4" height="7" fill="#ff0000"/>
<rect x="48" y="509" width="4" height="5" fill="#ff0000"/>
<rect x="56" y="510" width="4" height="4" fill="#ff0000"/>
<rect x="64" y="513" width="4" height="1" fill="#ff0000"/>
<rect x="73" y="514" width="2" height="1" fill="#ff0000"/>
<rect x="80" y="514" width="4" height="3" fill="#ff0000"/>
<rect x="88" y="514" width="4" height="5" fill="#ff0000"/>
<rect x="96" y="514" width="4" height="6" fill="#ff0000"/>
<rect x="104" y="514" width="4" height="7" fill="#ff0000"/>
<rect x="112" y="514" width="4" height="6" fill="#008000"/>
<rect x="120" y="514" width="4" height="7" fill="#ff0000"/>
<rect x="128" y="514" width="4" height="7" fill="#ff0000"/>
<rect x="136" y="514" width="4" height="8" fill="#ff0000"/>
<rect x="144" y="514" width="4" height="12" fill="#ff0000"/>
<rect x="152" y="514" width="4" height="15" fill="#ff0000"/>
<rect x="160" y="514" width="4" height="16" fill="#ff0000"/>
<rect x="168" y="514" width="4" height="17" fill="#ff0000"/>
<rect x="176" y="514" width="4" height="16" fill="#008000"/>
<rect x="184" y="514" width="4" height="13" fill="#008000"/>
<rect x="192" y="514" width="4" height="10" fill="#008000"/>
<rect x="200" y="514" width="4" height="4" fill="#008000"/>
<rect x="208" y="511" width="4" height="3" fill="#008000"/>
<rect x="216" y="504" width="4" height="10" fill="#008000"/>
<rect x="224" y="499" width="4" height="15" fill="#008000"/>
<rect x="232" y="494" width="4" height="20" fill="#008000"/>
<rect x="240" y="491" width="4" height="23" fill="#008000"/>
<rect x="248" y="491" width="4" height="23" fill="#ff0000"/>
<rect x="256" y="492" width="4" height="22" fill="#ff0000"/>
<rect x="264" y="492" width="4" height="22" fill="#008000"/>
<rect x="272" y="492" width="4" height="22" fill="#ff0000"/>
<rect x="280" y="494" width="4" height="20" fill="#ff0000"/>
<rect x="288" y="495" width="4" height="19" fill="#ff0000"/>
<rect x="296" y="495" width="4" height="19" fill="#ff0000"/>
<rect x="304" y="496" width="4" height="18" fill="#ff0000"/>
<rect x="312" y="496" width="4" height="18" fill="#008000"/>
<rect x="320" y="495" width="4" height="19" fill="#008000"/>
<rect x="328" y="494" width="4" height="20" fill="#008000"/>
<rect x="336" y="493" width="4" height="21" fill="#008000"/>
<rect x="344" y="491" width="4" height="23" fill="#008000"/>
<rect x="352" y="490" width="4" height="24" fill="#008000"/>
<rect x="360" y="488" width="4" height="26" fill="#008000"/>
<rect x="368" y="490" width="4" height="24" fill="#ff0000"/>
<rect x="376" y="493" width="4" height="21" fill="#ff0000"/>
<rect x="384" y="495" width="4" height="19" fill="#ff0000"/>
<rect x="392" y="496" width="4" height="18" fill="#ff0000"/>
<rect x="400" y="496" width="4" height="18" fill="#ff0000"/>
<rect x="408" y="494" width="4" height="20" fill="#008000"/>
<rect x="416" y="491" width="4" height="23" fill="#008000"/>
<rect x="424" y="491" width="4" height="23" fill="#008000"/>
<rect x="432" y="495" width="4" height="19" fill="#ff0000"/>
<rect x="440" y="500" width="4" height="14" fill="#ff0000"/>
<rect x="448" y="506" width="4" height="8" fill="#ff0000"/>
<rect x="456" y="513" width="4" height="1" fill="#ff0000"/>
<rect x="464" y="514" width="4" height="5" fill="#ff0000"/>
<rect x="472" y="514" width="4" height="7" fill="#ff0000"/>
<rect x="480" y="514" width="4" height="11" fill="#ff0000"/>
<rect x="488" y="514" width="4" height="13" fill="#ff0000"/>
<rect x="496" y="514" width="4" height="15" fill="#ff0000"/>
<rect x="504" y="514" width="4" height="19" fill="#ff0000"/>
<rect x="512" y="514" width="4" height="20" fill="#ff0000"/>
<rect x="520" y="514" width="4" height="22" fill="#ff0000"/>
<rect x="528" y="514" width="4" height="23" fill="#ff0000"/>
<rect x="536" y="514" width="4" height="23" fill="#008000"/>
<rect x="544" y="514" width="4" height="21" fill="#008000"/>
<rect x="552" y="514" width="4" height="17" fill="#008000"/>
<rect x="560" y="514" width="4" height="9" fill="#008000"/>
<rect x="568" y="514" width="4" height="1" fill="#008000"/>
<rect x="576" y="507" width="4" height="7" fill="#008000"/>
<rect x="584" y="497" width="4" height="17" fill="#008000"/>
<rect x="592" y="490" width="4" height="24" fill="#008000"/>
<rect x="600" y="488" width="4" height="26" fill="#008000"/>
<rect x="608" y="486" width="4" height="28" fill="#008000"/>
<rect x="616" y="485" width="4" height="29" fill="#008000"/>
<rect x="624" y="485" width="4" height="29" fill="#ff0000"/>
<rect x="632" y="484" width="4" height="30" fill="#008000"/>
<rect x="640" y="484" width="4" height="30" fill="#ff0000"/>
<rect x="648" y="486" width="4" height="28" fill="#ff0000"/>
<rect x="656" y="489" width="4" height="25" fill="#ff0000"/>
<rect x="664" y="492" width="4" height="22" fill="#ff0000"/>
<rect x="672" y="495" width="4" height="19" fill="#ff0000"/>
<rect x="680" y="498" width="4" height="16" fill="#ff0000"/>
<rect x="688" y="498" width="4" height="16" fill="#ff0000"/>
<rect x="696" y="499" width="4" height="15" fill="#ff0000"/>
<rect x="704" y="500" width="4" height="14" fill="#ff0000"/>
<rect x="712" y="501" width="4" height="13" fill="#ff0000"/>
<rect x="720" y="500" width="4" height="14" fill="#008000"/>
<rect x="728" y="500" width="4" height="14" fill="#ff0000"/>
<rect x="736" y="501" width="4" height="13" fill="#ff0000"/>
<rect x="744" y="502" width="4" height="12" fill="#ff0000"/>
<rect x="752" y="504" width="4" height="10" fill="#ff0000"/>
<rect x="760" y="507" width="4" height="7" fill="#ff0000"/>
<rect x="768" y="509" width="4" height="5" fill="#ff0000"/>
<rect x="776" y="512" width="4" height="2" fill="#ff0000"/>
<rect x="784" y="514" width="4" height="1" fill="#ff0000"/>
<rect x="792" y="514" width="4" height="4" fill="#ff0000"/>
<rect x="800" y="514" width="4" height="8" fill="#ff0000"/>
<rect x="808" y="514" width="4" height="10" fill="#ff0000"/>
<rect x="816" y="514" width="4" height="10" fill="#ff0000"/>
<rect x="824" y="514" width="4" height="10" fill="#008000"/>
<rect x="832" y="514" width="4" height="11" fill="#ff0000"/>
<rect x="840" y="514" width="4" height="11" fill="#008000"/>
<rect x="848" y="514" width="4" height="12" fill="#ff0000"/>
<rect x="856" y="514" width="4" height="14" fill="#ff0000"/>
<rect x="864" y="514" width="4" height="16" fill="#ff0000"/>
<rect x="872" y="514" width="4" height="18" fill="#ff0000"/>
<rect x="880" y="514" width="4" height="19" fill="#ff0000"/>
<rect x="888" y="514" width="4" height="21" fill="#ff0000"/>
<rect x="896" y="514" width="4" height="23" fill="#ff0000"/>
<rect x="904" y="514" width="4" height="22" fill="#008000"/>
<rect x="912" y="514" width="4" height="22" fill="#008000"/>
<rect x="920" y="514" width="4" height="22" fill="#008000"/>
<rect x="928" y="514" width="4" height="19" fill="#008000"/>
<rect x="936" y="514" width="4" height="14" fill="#008000"/>
<rect x="944" y="514" width="4" height="10" fill="#008000"/>
<rect x="952" y="514" width="4" height="11" fill="#ff0000"/>
<rect x="960" y="514" width="4" height="16" fill="#ff0000"/>
<rect x="968" y="514" width="4" height="24" fill="#ff0000"/>
<rect x="976" y="514" width="4" height="36" fill="#ff0000"/>
<rect x="984" y="514" width="4" height="48" fill="#ff0000"/>
<rect x="992" y="514" width="4" height="52" fill="#ff0000"/>
<rect x="1000" y="514" width="4" height="52" fill="#008000"/>
<rect x="1008" y="514" width="4" height="49" fill="#008000"/>
<rect x="1016" y="514" width="4" height="45" fill="#008000"/>
<rect x="1024" y="514" width="4" height="42" fill="#008000"/>
<rect x="1032" y="514" width="4" height="39" fill="#008000"/>
<rect x="1040" y="514" width="4" height="37" fill="#008000"/>
<rect x="1048" y="514" width="4" height="35" fill="#008000"/>
<rect x="1056" y="514" width="4" height="32" fill="#008000"/>
<rect x="1064" y="514" width="4" height="30" fill="#008000"/>
<rect x="1072" y="514" width="4" height="27" fill="#008000"/>
<rect x="1080" y="514" width="4" height="26" fill="#008000"/>
<rect x="1088" y="514" width="4" height="25" fill="#008000"/>
<rect x="1096" y="514" width="4" height="28" fill="#ff0000"/>
<rect x="0" y="624" width="4" height="1" fill="#008000"/>
<rect x="8" y="624" width="4" height="1" fill="#008000"/>
<rect x="16" y="624" width="4" height="3" fill="#ff0000"/>
<rect x="24" y="624" width="4" height="5" fill="#ff0000"/>
<rect x="32" y="624" width="4" height="10" fill="#ff0000"/>
<rect x="40" y="624" width="4" height="11" fill="#ff0000"/>
<rect x="48" y="624" width="4" height="9" fill="#008000"/>
<rect x="56" y="624" width="4" height="7" fill="#008000"/>
<rect x="64" y="624" width="4" height="9" fill="#ff0000"/>
<rect x="72" y="624" width="4" height="8" fill="#008000"/>
<rect x="80" y="624" width="4" height="9" fill="#ff0000"/>
<rect x="88" y="624" width="4" height="9" fill="#008000"/>
<rect x="96" y="624" width="4" height="8" fill="#008000"/>
<rect x="104" y="624" width="4" height="5" fill="#008000"/>
<rect x="113" y="624" width="2" height="1" fill="#008000"/>
<rect x="121" y="624" width="2" height="1" fill="#008000"/>
<rect x="129" y="624" width="2" height="1" fill="#ff0000"/>
<rect x="136" y="624" width="4" height="3" fill="#ff0000"/>
<rect x="144" y="624" width="4" height="7" fill="#ff0000"/>
<rect x="152" y="624" width="4" height="10" fill="#ff0000"/>
<rect x="160" y="624" width="4" height="9" fill="#008000"/>
<rect x="168" y="624" width="4" height="7" fill="#008000"/>
<rect x="176" y="624" width="4" height="1" fill="#008000"/>
<rect x="184" y="619" width="4" height="5" fill="#008000"/>
<rect x="192" y="614" width="4" height="10" fill="#008000"/>
<rect x="200" y="607" width="4" height="17" fill="#008000"/>
<rect x="208" y="601" width="4" height="23" fill="#008000"/>
<rect x="216" y="596" width="4" height="28" fill="#008000"/>
<rect x="224" y="597" width="4" height="27" fill="#ff0000"/>
<rect x="232" y="599" width="4" height="25" fill="#ff0000"/>
<rect x="240" y="605" width="4" height="19" fill="#ff0000"/>
<rect x="248" y="614" width="4" height="10" fill="#ff0000"/>
<rect x="256" y="621" width="4" height="3" fill="#ff0000"/>
<rect x="264" y="623" width="4" height="1" fill="#ff0000"/>
<rect x="273" y="624" width="2" height="1" fill="#ff0000"/>
<rect x="280" y="624" width="4" height="3" fill="#ff0000"/>
<rect x="288" y="624" width="4" height="3" fill="#008000"/>
<rect x="296" y="624" width="4" height="3" fill="#008000"/>
<rect x="304" y="624" width="4" height="3" fill="#008000"/>
<rect x="313" y="624" width="2" height="1" fill="#008000"/>
<rect x="320" y="623" width="4" height="1" fill="#008000"/>
<rect x="328" y="621" width="4" height="3" fill="#008000"/>
<rect x="336" y="620" width="4" height="4" fill="#008000"/>
<rect x="344" y="619" width="4" height="5" fill="#008000"/>
<rect x="352" y="617" width="4" height="7" fill="#008000"/>
<rect x="360" y="618" width="4" height="6" fill="#ff0000"/>
<rect x="368" y="623" width="4" height="1" fill="#ff0000"/>
<rect x="376" y="624" width="4" height="5" fill="#ff0000"/>
<rect x="384" y="624" width="4" height="7" fill="#ff0000"/>
<rect x="392" y="624" width="4" height="8" fill="#ff0000"/>
<rect x="400" y="624" width="4" height="4" fill="#008000"/>
<rect x="408" y="622" width="4" height="2" fill="#008000"/>
<rect x="416" y="616" width="4" height="8" fill="#008000"/>
<rect x="424" y="617" width="4" height="7" fill="#ff0000"/>
<rect x="432" y="624" width="4" height="3" fill="#ff0000"/>
<rect x="440" y="624" width="4" height="11" fill="#ff0000"/>
<rect x="448" y="624" width="4" height="20" fill="#ff0000"/>
<rect x="456" y="624" width="4" height="26" fill="#ff0000"/>
<rect x="464" y="624" width="4" height="25" fill="#008000"/>
<rect x="472" y="624" width="4" height="19" fill="#008000"/>
<rect x="480" y="624" width="4" height="17" fill="#008000"/>
<rect x="488" y="624" width="4" height="13" fill="#008000"/>
<rect x="496" y="624" width="4" height="11" fill="#008000"/>
<rect x="504" y="624" width="4" height="12" fill="#ff0000"/>
<rect x="512" y="624" width="4" height="10" fill="#008000"/>
<rect x="520" y="624" width="4" height="8" fill="#008000"/>
<rect x="528" y="624" width="4" height="6" fill="#008000"/>
<rect x="536" y="624" width="4" height="3" fill="#008000"/>
<rect x="544" y="623" width="4" height="1" fill="#008000"/>
<rect x="552" y="616" width="4" height="8" fill="#008000"/>
<rect x="560" y="604" width="4" height="20" fill="#008000"/>
<rect x="568" y="595" width="4" height="29" fill="#008000"/>
<rect x="576" y="590" width="4" height="34" fill="#008000"/>
<rect x="584" y="586" width="4" height="38" fill="#008000"/>
<rect x="592" y="589" width="4" height="35" fill="#ff0000"/>
<rect x="600" y="599" width="4" height="25" fill="#ff0000"/>
<rect x="608" y="608" width="4" height="16" fill="#ff0000"/>
<rect x="616" y="615" width="4" height="9" fill="#ff0000"/>
<rect x="624" y="620" width="4" height="4" fill="#ff0000"/>
<rect x="632" y="619" width="4" height="5" fill="#008000"/>
<rect x="640" y="622" width="4" height="2" fill="#ff0000"/>
<rect x="648" y="624" width="4" height="1" fill="#ff0000"/>
<rect x="656" y="624" width="4" height="6" fill="#ff0000"/>
<rect x="664" y="624" width="4" height="11" fill="#ff0000"/>
<rect x="672" y="624" width="4" height="13" fill="#ff0000"/>
<rect x="680" y="624" width="4" height="12" fill="#008000"/>
<rect x="688" y="624" width="4" height="8" fill="#008000"/>
<rect x="696" y="624" width="4" height="5" fill="#008000"/>
<rect x="704" y="624" width="4" height="4" fill="#008000"/>
<rect x="712" y="624" width="4" height="3" fill="#008000"/>
<rect x="721" y="624" width="2" height="1" fill="#008000"/>
<rect x="729" y="624" width="2" height="1" fill="#008000"/>
<rect x="737" y="624" width="2" height="1" fill="#ff0000"/>
<rect x="744" y="624" width="4" height="3" fill="#ff0000"/>
<rect x="752" y="624" width="4" height="5" fill="#ff0000"/>
<rect x="760" y="624" width="4" height="9" fill="#ff0000"/>
<rect x="768" y="624" width="4" height="9" fill="#ff0000"/>
<rect x="776" y="624" width="4" height="11" fill="#ff0000"/>
<rect x="784" y="624" width="4" height="14" fill="#ff0000"/>
<rect x="792" y="624" width="4" height="12" fill="#008000"/>
<rect x="800" y="624" width="4" height="13" fill="#ff0000"/>
<rect x="808" y="624" width="4" height="12" fill="#008000"/>
<rect x="816" y="624" width="4" height="7" fill="#008000"/>
<rect x="824" y="624" width="4" height="3" fill="#008000"/>
<rect x="832" y="624" width="4" height="3" fill="#008000"/>
<rect x="841" y="624" width="2" height="1" fill="#008000"/>
<rect x="848" y="624" width="4" height="3" fill="#ff0000"/>
<rect x="856" y="624" width="4" height="4" fill="#ff0000"/>
<rect x="864" y="624" width="4" height="7" fill="#ff0000"/>
<rect x="872" y="624" width="4" height="7" fill="#ff0000"/>
<rect x="880" y="624" width="4" height="7" fill="#008000"/>
<rect x="888" y="624" width="4" height="6" fill="#008000"/>
<rect x="896" y="624" width="4" height="7" fill="#ff0000"/>
<rect x="904" y="624" width="4" height="3" fill="#008000"/>
<rect x="913" y="624" width="2" height="1" fill="#008000"/>
<rect x="920" y="623" width="4" height="1" fill="#008000"/>
<rect x="928" y="618" width="4" height="6" fill="#008000"/>
<rect x="936" y="611" width="4" height="13" fill="#008000"/>
<rect x="944" y="607" width="4" height="17" fill="#008000"/>
<rect x="952" y="615" width="4" height="9" fill="#ff0000"/>
<rect x="960" y="624" width="4" height="4" fill="#ff0000"/>
<rect x="968" y="624" width="4" height="20" fill="#ff0000"/>
<rect x="976" y="624" width="4" height="35" fill="#ff0000"/>
<rect x="984" y="624" width="4" height="44" fill="#ff0000"/>
<rect x="992" y="624" width="4" height="37" fill="#008000"/>
<rect x="1000" y="624" width="4" height="21" fill="#008000"/>
<rect x="1008" y="624" width="4" height="3" fill="#008000"/>
<rect x="1016" y="615" width="4" height="9" fill="#008000"/>
<rect x="1024" y="610" width="4" height="14" fill="#008000"/>
<rect x="1032" y="610" width="4" height="14" fill="#008000"/>
<rect x="1040" y="612" width="4" height="12" fill="#ff0000"/>
<rect x="1048" y="614" width="4" height="10" fill="#ff0000"/>
<rect x="1056" y="614" width="4" height="10" fill="#ff0000"/>
<rect x="1064" y="614" width="4" height="10" fill="#008000"/>
<rect x="1072" y="613" width="4" height="11" fill="#008000"/>
<rect x="1080" y="614" width="4" height="10" fill="#ff0000"/>
<rect x="1088" y="617" width="4" height="7" fill="#ff0000"/>
<rect x="1097" y="624" width="2" height="1" fill="#ff0000"/>
<rect x="0" y="706" width="4" height="24" fill="#ff0000"/>
<rect x="8" y="709" width="4" height="21" fill="#ff0000"/>
<rect x="16" y="712" width="4" height="18" fill="#ff0000"/>
<rect x="24" y="712" width="4" height="18" fill="#008000"/>
<rect x="32" y="710" width="4" height="20" fill="#008000"/>
<rect x="40" y="710" width="4" height="20" fill="#008000"/>
<rect x="48" y="712" width="4" height="18" fill="#ff0000"/>
<rect x="56" y="715" width="4" height="15" fill="#ff0000"/>
<rect x="64" y="716" width="4" height="14" fill="#ff0000"/>
<rect x="72" y="718" width="4" height="12" fill="#ff0000"/>
<rect x="80" y="718" width="4" height="12" fill="#ff0000"/>
<rect x="88" y="720" width="4" height="10" fill="#ff0000"/>
<rect x="96" y="720" width="4" height="10" fill="#008000"/>
<rect x="104" y="721" width="4" height="9" fill="#ff0000"/>
<rect x="112" y="724" width="4" height="6" fill="#ff0000"/>
<rect x="120" y="726" width="4" height="4" fill="#ff0000"/>
<rect x="128" y="727" width="4" height="3" fill="#ff0000"/>
<rect x="136" y="728" width="4" height="2" fill="#ff0000"/>
<rect x="144" y="728" width="4" height="2" fill="#ff0000"/>
<rect x="152" y="729" width="4" height="1" fill="#ff0000"/>
<rect x="160" y="729" width="4" height="1" fill="#ff0000"/>
<rect x="168" y="728" width="4" height="2" fill="#008000"/>
<rect x="176" y="726" width="4" height="4" fill="#008000"/>
<rect x="184" y="722" width="4" height="8" fill="#008000"/>
<rect x="192" y="720" width="4" height="10" fill="#008000"/>
<rect x="200" y="719" width="4" height="11" fill="#008000"/>
<rect x="208" y="720" width="4" height="10" fill="#ff0000"/>
<rect x="216" y="722" width="4" height="8" fill="#ff0000"/>
<rect x="224" y="724" width="4" height="6" fill="#ff0000"/>
<rect x="232" y="726" width="4" height="4" fill="#ff0000"/>
<rect x="240" y="728" width="4" height="2" fill="#ff0000"/>
<rect x="248" y="721" width="4" height="9" fill="#008000"/>
<rect x="256" y="715" width="4" height="15" fill="#008000"/>
<rect x="264" y="712" width="4" height="18" fill="#008000"/>
<rect x="272" y="712" width="4" height="18" fill="#ff0000"/>
<rect x="280" y="712" width="4" height="18" fill="#008000"/>
<rect x="288" y="711" width="4" height="19" fill="#008000"/>
<rect x="296" y="710" width="4" height="20" fill="#008000"/>
<rect x="304" y="711" width="4" height="19" fill="#ff0000"/>
<rect x="312" y="713" width="4" height="17" fill="#ff0000"/>
<rect x="320" y="714" width="4" height="16" fill="#ff0000"/>
<rect x="328" y="714" width="4" height="16" fill="#ff0000"/>
<rect x="336" y="714" width="4" height="16" fill="#008000"/>
<rect x="344" y="714" width="4" height="16" fill="#ff0000"/>
<rect x="352" y="715" width="4" height="15" fill="#ff0000"/>
<rect x="360" y="715" width="4" height="15" fill="#ff0000"/>
<rect x="368" y="713" width="4" height="17" fill="#008000"/>
<rect x="376" y="711" width="4" height="19" fill="#008000"/>
<rect x="384" y="710" width="4" height="20" fill="#008000"/>
<rect x="392" y="710" width="4" height="20" fill="#008000"/>
<rect x="400" y="710" width="4" height="20" fill="#008000"/>
<rect x="408" y="712" width="4" height="18" fill="#ff0000"/>
<rect x="416" y="715" width="4" height="15" fill="#ff0000"/>
<rect x="424" y="717" width="4" height="13" fill="#ff0000"/>
<rect x="432" y="716" width="4" height="14" fill="#008000"/>
<rect x="440" y="713" width="4" height="17" fill="#008000"/>
<rect x="448" y="710" width="4" height="20" fill="#008000"/>
<rect x="456" y="707" width="4" height="23" fill="#008000"/>
<rect x="464" y="709" width="4" height="21" fill="#ff0000"/>
<rect x="472" y="716" width="4" height="14" fill="#ff0000"/>
<rect x="480" y="721" width="4" height="9" fill="#ff0000"/>
<rect x="488" y="725" width="4" height="5" fill="#ff0000"/>
<rect x="496" y="726" width="4" height="4" fill="#ff0000"/>
<rect x="504" y="729" width="4" height="1" fill="#ff0000"/>
<rect x="512" y="727" width="4" height="3" fill="#008000"/>
<rect x="520" y="723" width="4" height="7" fill="#008000"/>
<rect x="528" y="721" width="4" height="9" fill="#008000"/>
<rect x="536" y="720" width="4" height="10" fill="#008000"/>
<rect x="544" y="718" width="4" height="12" fill="#008000"/>
<rect x="552" y="716" width="4" height="14" fill="#008000"/>
<rect x="560" y="713" width="4" height="17" fill="#008000"/>
<rect x="568" y="713" width="4" height="17" fill="#008000"/>
<rect x="576" y="715" width="4" height="15" fill="#ff0000"/>
<rect x="584" y="717" width="4" height="13" fill="#ff0000"/>
<rect x="592" y="721" width="4" height="9" fill="#ff0000"/>
<rect x="600" y="729" width="4" height="1" fill="#ff0000"/>
<rect x="608" y="722" width="4" height="8" fill="#008000"/>
<rect x="616" y="715" width="4" height="15" fill="#008000"/>
<rect x="624" y="709" width="4" height="21" fill="#008000"/>
<rect x="632" y="707" width="4" height="23" fill="#008000"/>
<rect x="640" y="707" width="4" height="23" fill="#008000"/>
<rect x="648" y="707" width="4" height="23" fill="#ff0000"/>
<rect x="656" y="706" width="4" height="24" fill="#008000"/>
<rect x="664" y="704" width="4" height="26" fill="#008000"/>
<rect x="672" y="703" width="4" height="27" fill="#008000"/>
<rect x="680" y="704" width="4" height="26" fill="#ff0000"/>
<rect x="688" y="708" width="4" height="22" fill="#ff0000"/>
<rect x="696" y="711" width="4" height="19" fill="#ff0000"/>
<rect x="704" y="714" width="4" height="16" fill="#ff0000"/>
<rect x="712" y="715" width="4" height="15" fill="#ff0000"/>
<rect x="720" y="717" width="4" height="13" fill="#ff0000"/>
<rect x="728" y="718" width="4" height="12" fill="#ff0000"/>
<rect x="736" y="719" width="4" height="11" fill="#ff0000"/>
<rect x="744" y="720" width="4" height="10" fill="#ff0000"/>
<rect x="752" y="720" width="4" height="10" fill="#ff0000"/>
<rect x="760" y="720" width="4" height="10" fill="#008000"/>
<rect x="768" y="719" width="4" height="11" fill="#008000"/>
<rect x="776" y="721" width="4" height="9" fill="#ff0000"/>
<rect x="784" y="723" width="4" height="7" fill="#ff0000"/>
<rect x="792" y="724" width="4" height="6" fill="#ff0000"/>
<rect x="800" y="725" width="4" height="5" fill="#ff0000"/>
<rect x="808" y="726" width="4" height="4" fill="#ff0000"/>
<rect x="816" y="728" width="4" height="2" fill="#ff0000"/>
<rect x="824" y="728" width="4" height="2" fill="#008000"/>
<rect x="832" y="727" width="4" height="3" fill="#008000"/>
<rect x="840" y="726" width="4" height="4" fill="#008000"/>
<rect x="848" y="726" width="4" height="4" fill="#ff0000"/>
<rect x="856" y="726" width="4" height="4" fill="#008000"/>
<rect x="864" y="727" width="4" height="3" fill="#ff0000"/>
<rect x="872" y="726" width="4" height="4" fill="#008000"/>
<rect x="880" y="724" width="4" height="6" fill="#008000"/>
<rect x="888" y="722" width="4" height="8" fill="#008000"/>
<rect x="896" y="721" width="4" height="9" fill="#008000"/>
<rect x="904" y="719" width="4" height="11" fill="#008000"/>
<rect x="912" y="717" width="4" height="13" fill="#008000"/>
<rect x="920" y="716" width="4" height="14" fill="#008000"/>
<rect x="928" y="715" width="4" height="15" fill="#008000"/>
<rect x="936" y="712" width="4" height="18" fill="#008000"/>
<rect x="944" y="712" width="4" height="18" fill="#ff0000"/>
<rect x="952" y="713" width="4" height="17" fill="#ff0000"/>
<rect x="960" y="715" width="4" height="15" fill="#ff0000"/>
<rect x="968" y="717" width="4" height="13" fill="#ff0000"/>
<rect x="976" y="720" width="4" height="10" fill="#ff0000"/>
<rect x="984" y="725" width="4" height="5" fill="#ff0000"/>
<rect x="992" y="721" width="4" height="9" fill="#008000"/>
<rect x="1000" y="711" width="4" height="19" fill="#008000"/>
<rect x="1008" y="698" width="4" height="32" fill="#008000"/>
<rect x="1016" y="691" width="4" height="39" fill="#008000"/>
<rect x="1024" y="688" width="4" height="42" fill="#008000"/>
<rect x="1032" y="688" width="4" height="42" fill="#ff0000"/>
<rect x="1040" y="690" width="4" height="40" fill="#ff0000"/>
<rect x="1048" y="692" width="4" height="38" fill="#ff0000"/>
<rect x="1056" y="694" width="4" height="36" fill="#ff0000"/>
<rect x="1064" y="695" width="4" height="35" fill="#ff0000"/>
<rect x="1072" y="696" width="4" height="34" fill="#ff0000"/>
<rect x="1080" y="698" width="4" height="32" fill="#ff0000"/>
<rect x="1088" y="699" width="4" height="31" fill="#ff0000"/>
<rect x="1096" y="702" width="4" height="28" fill="#ff0000"/>
<rect x="1104" y="704" width="4" height="26" fill="#ff0000"/>
<rect x="1112" y="705" width="4" height="25" fill="#ff0000"/>
<rect x="1120" y="706" width="4" height="24" fill="#ff0000"/>
<rect x="1128" y="705" width="4" height="25" fill="#008000"/>
<rect x="1136" y="701" width="4" height="29" fill="#008000"/>
<rect x="0" y="730" width="4" height="3" fill="#ff0000"/>
<rect x="8" y="730" width="4" height="6" fill="#008000"/>
<rect x="16" y="730" width="4" height="10" fill="#008000"/>
<rect x="24" y="730" width="4" height="8" fill="#ff0000"/>
<rect x="32" y="730" width="4" height="5" fill="#ff0000"/>
<rect x="40" y="730" width="4" height="2" fill="#ff0000"/>
<rect x="48" y="730" width="4" height="4" fill="#008000"/>
<rect x="57" y="730" width="2" height="1" fill="#ff0000"/>
<rect x="65" y="730" width="2" height="1" fill="#ff0000"/>
<rect x="72" y="730" width="4" height="1" fill="#008000"/>
<rect x="81" y="730" width="2" height="1" fill="#ff0000"/>
<rect x="89" y="730" width="2" height="1" fill="#ff0000"/>
<rect x="96" y="730" width="4" height="3" fill="#008000"/>
<rect x="104" y="730" width="4" height="4" fill="#008000"/>
<rect x="112" y="730" width="4" height="4" fill="#ff0000"/>
<rect x="120" y="730" width="4" height="4" fill="#ff0000"/>
<rect x="128" y="730" width="4" height="3" fill="#ff0000"/>
<rect x="136" y="730" width="4" height="3" fill="#008000"/>
<rect x="144" y="730" width="4" height="5" fill="#008000"/>
<rect x="152" y="730" width="4" height="6" fill="#008000"/>
<rect x="160" y="730" width="4" height="8" fill="#008000"/>
<rect x="168" y="730" width="4" height="12" fill="#008000"/>
<rect x="176" y="730" width="4" height="14" fill="#008000"/>
<rect x="184" y="730" width="4" height="13" fill="#ff0000"/>
<rect x="192" y="730" width="4" height="10" fill="#ff0000"/>
<rect x="200" y="730" width="4" height="7" fill="#ff0000"/>
<rect x="208" y="730" width="4" height="4" fill="#ff0000"/>
<rect x="216" y="730" width="4" height="1" fill="#ff0000"/>
<rect x="224" y="730" width="4" height="5" fill="#008000"/>
<rect x="232" y="730" width="4" height="15" fill="#008000"/>
<rect x="240" y="730" width="4" height="21" fill="#008000"/>
<rect x="248" y="730" width="4" height="21" fill="#ff0000"/>
<rect x="256" y="730" width="4" height="18" fill="#ff0000"/>
<rect x="264" y="730" width="4" height="19" fill="#008000"/>
<rect x="272" y="730" width="4" height="19" fill="#008000"/>
<rect x="280" y="730" width="4" height="18" fill="#ff0000"/>
<rect x="288" y="730" width="4" height="16" fill="#ff0000"/>
<rect x="296" y="730" width="4" height="13" fill="#ff0000"/>
<rect x="304" y="730" width="4" height="11" fill="#ff0000"/>
<rect x="312" y="730" width="4" height="12" fill="#008000"/>
<rect x="320" y="730" width="4" height="12" fill="#ff0000"/>
<rect x="328" y="730" width="4" height="10" fill="#ff0000"/>
<rect x="336" y="730" width="4" height="9" fill="#ff0000"/>
<rect x="344" y="730" width="4" height="9" fill="#008000"/>
<rect x="352" y="730" width="4" height="12" fill="#008000"/>
<rect x="360" y="730" width="4" height="14" fill="#008000"/>
<rect x="368" y="730" width="4" height="13" fill="#ff0000"/>
<rect x="376" y="730" width="4" height="14" fill="#008000"/>
<rect x="384" y="730" width="4" height="14" fill="#ff0000"/>
<rect x="392" y="730" width="4" height="10" fill="#ff0000"/>
<rect x="400" y="730" width="4" height="6" fill="#ff0000"/>
<rect x="408" y="730" width="4" height="5" fill="#ff0000"/>
<rect x="416" y="730" width="4" height="8" fill="#008000"/>
<rect x="424" y="730" width="4" height="12" fill="#008000"/>
<rect x="432" y="730" width="4" height="15" fill="#008000"/>
<rect x="440" y="730" width="4" height="17" fill="#008000"/>
<rect x="448" y="730" width="4" height="14" fill="#ff0000"/>
<rect x="456" y="730" width="4" height="2" fill="#ff0000"/>
<rect x="464" y="730" width="4" height="1" fill="#ff0000"/>
<rect x="472" y="730" width="4" height="3" fill="#008000"/>
<rect x="480" y="730" width="4" height="6" fill="#008000"/>
<rect x="488" y="730" width="4" height="7" fill="#008000"/>
<rect x="496" y="730" width="4" height="11" fill="#008000"/>
<rect x="504" y="730" width="4" height="15" fill="#008000"/>
<rect x="512" y="730" width="4" height="15" fill="#008000"/>
<rect x="520" y="730" width="4" height="15" fill="#ff0000"/>
<rect x="528" y="730" width="4" height="16" fill="#008000"/>
<rect x="536" y="730" width="4" height="19" fill="#008000"/>
<rect x="544" y="730" width="4" height="19" fill="#008000"/>
<rect x="552" y="730" width="4" height="17" fill="#ff0000"/>
<rect x="560" y="730" width="4" height="13" fill="#ff0000"/>
<rect x="568" y="730" width="4" height="10" fill="#ff0000"/>
<rect x="576" y="730" width="4" height="5" fill="#ff0000"/>
<rect x="584" y="730" width="4" height="7" fill="#008000"/>
<rect x="592" y="730" width="4" height="17" fill="#008000"/>
<rect x="600" y="730" width="4" height="22" fill="#008000"/>
<rect x="608" y="730" width="4" height="28" fill="#008000"/>
<rect x="616" y="730" width="4" height="27" fill="#ff0000"/>
<rect x="624" y="730" width="4" height="24" fill="#ff0000"/>
<rect x="632" y="730" width="4" height="25" fill="#008000"/>
<rect x="640" y="730" width="4" height="25" fill="#008000"/>
<rect x="648" y="730" width="4" height="26" fill="#008000"/>
<rect x="656" y="730" width="4" height="26" fill="#008000"/>
<rect x="664" y="730" width="4" height="21" fill="#ff0000"/>
<rect x="672" y="730" width="4" height="14" fill="#ff0000"/>
<rect x="680" y="730" width="4" height="11" fill="#ff0000"/>
<rect x="688" y="730" width="4" height="8" fill="#ff0000"/>
<rect x="696" y="730" width="4" height="7" fill="#ff0000"/>
<rect x="704" y="730" width="4" height="4" fill="#ff0000"/>
<rect x="712" y="730" width="4" height="3" fill="#ff0000"/>
<rect x="720" y="730" width="4" height="3" fill="#008000"/>
<rect x="728" y="730" width="4" height="2" fill="#ff0000"/>
<rect x="736" y="730" width="4" height="2" fill="#ff0000"/>
<rect x="744" y="730" width="4" height="4" fill="#008000"/>
<rect x="752" y="730" width="4" height="4" fill="#008000"/>
<rect x="760" y="730" width="4" height="1" fill="#ff0000"/>
<rect x="768" y="730" width="4" height="1" fill="#ff0000"/>
<rect x="777" y="730" width="2" height="1" fill="#008000"/>
<rect x="784" y="730" width="4" height="1" fill="#008000"/>
<rect x="793" y="730" width="2" height="1" fill="#ff0000"/>
<rect x="800" y="730" width="4" height="4" fill="#008000"/>
<rect x="808" y="730" width="4" height="9" fill="#008000"/>
<rect x="816" y="730" width="4" height="7" fill="#ff0000"/>
<rect x="824" y="730" width="4" height="7" fill="#008000"/>
<rect x="832" y="730" width="4" height="7" fill="#008000"/>
<rect x="840" y="730" width="4" height="4" fill="#ff0000"/>
<rect x="848" y="730" width="4" height="4" fill="#008000"/>
<rect x="856" y="730" width="4" height="6" fill="#008000"/>
<rect x="864" y="730" width="4" height="8" fill="#008000"/>
<rect x="872" y="730" width="4" height="9" fill="#008000"/>
<rect x="880" y="730" width="4" height="10" fill="#008000"/>
<rect x="888" y="730" width="4" height="12" fill="#008000"/>
<rect x="896" y="730" width="4" height="14" fill="#008000"/>
<rect x="904" y="730" width="4" height="13" fill="#ff0000"/>
<rect x="912" y="730" width="4" height="15" fill="#008000"/>
<rect x="920" y="730" width="4" height="18" fill="#008000"/>
<rect x="928" y="730" width="4" height="15" fill="#ff0000"/>
<rect x="936" y="730" width="4" height="12" fill="#ff0000"/>
<rect x="944" y="730" width="4" height="11" fill="#ff0000"/>
<rect x="952" y="730" width="4" height="8" fill="#ff0000"/>
<rect x="960" y="730" width="4" height="2" fill="#ff0000"/>
<rect x="968" y="730" width="4" height="3" fill="#008000"/>
<rect x="976" y="730" width="4" height="6" fill="#008000"/>
<rect x="984" y="730" width="4" height="23" fill="#008000"/>
<rect x="992" y="730" width="4" height="35" fill="#008000"/>
<rect x="1000" y="730" width="4" height="40" fill="#008000"/>
<rect x="1008" y="730" width="4" height="40" fill="#ff0000"/>
<rect x="1016" y="730" width="4" height="37" fill="#ff0000"/>
<rect x="1024" y="730" width="4" height="33" fill="#ff0000"/>
<rect x="1032" y="730" width="4" height="29" fill="#ff0000"/>
<rect x="1040" y="730" width="4" height="26" fill="#ff0000"/>
<rect x="1048" y="730" width="4" height="25" fill="#ff0000"/>
<rect x="1056" y="730" width="4" height="23" fill="#ff0000"/>
<rect x="1064" y="730" width="4" height="20" fill="#ff0000"/>
<rect x="1072" y="730" width="4" height="17" fill="#ff0000"/>
<rect x="1080" y="730" width="4" height="14" fill="#ff0000"/>
<rect x="1088" y="730" width="4" height="12" fill="#ff0000"/>
<rect x="1096" y="730" width="4" height="11" fill="#ff0000"/>
<rect x="1104" y="730" width="4" height="11" fill="#ff0000"/>
<rect x="1112" y="730" width="4" height="13" fill="#008000"/>
<rect x="1120" y="730" width="4" height="19" fill="#008000"/>
</g>
<g stroke="#dedede" stroke-width="1" stroke-dasharray="3 3" shape-rendering="crispEdges" fill="none">
<path d="M2 514.5H1227"/>
<path d="M2 624.5H1227"/>
<path d="M2 730.5H1227"/>
</g>
<rect x="1228" y="514" width="3" height="1" fill="#dedede" shape-rendering="crispEdges"/>
<rect x="1228" y="624" width="3" height="1" fill="#dedede" shape-rendering="crispEdges"/>
<rect x="1228" y="730" width="3" height="1" fill="#dedede" shape-rendering="crispEdges"/>
<rect x="0" y="0" width="2" height="800" fill="#fff"/>
<g fill="#000" shape-rendering="crispEdges">
<rect x="2" y="2" width="1" height="782"/>
<rect x="1227" y="2" width="1" height="778"/>
<rect x="2" y="2" width="1226" height="1"/>
<rect x="2" y="473" width="1226" height="1"/>
<rect x="2" y="475" width="1226" height="1"/>
<rect x="2" y="575" width="1226" height="1"/>
<rect x="2" y="577" width="1226" height="1"/>
<rect x="2" y="677" width="1226" height="1"/>
<rect x="2" y="679" width="1226" height="1"/>
<rect x="2" y="779" width="1230" height="1"/>
<rect x="1228" y="25" width="4" height="1"/>
<rect x="1228" y="57" width="4" height="1"/>
<rect x="1228" y="89" width="4" height="1"/>
<rect x="1228" y="121" width="4" height="1"/>
<rect x="1228" y="153" width="4" height="1"/>
<rect x="1228" y="185" width="4" height="1"/>
<rect x="1228" y="217" width="4" height="1"/>
<rect x="1228" y="249" width="4" height="1"/>
<rect x="1228" y="281" width="4" height="1"/>
<rect x="1228" y="313" width="4" height="1"/>
<rect x="1228" y="345" width="4" height="1"/>
<rect x="1228" y="377" width="4" height="1"/>
<rect x="1228" y="409" width="4" height="1"/>
<rect x="1228" y="441" width="4" height="1"/>
<rect x="1228" y="476" width="4" height="1"/>
<rect x="1228" y="574" width="4" height="1"/>
<rect x="1228" y="578" width="4" height="1"/>
<rect x="1228" y="676" width="4" height="1"/>
<rect x="1228" y="680" width="4" height="1"/>
<rect x="2" y="780" width="1" height="4"/>
<rect x="66" y="780" width="1" height="4"/>
<rect x="130" y="780" width="1" height="4"/>
<rect x="194" y="780" width="1" height="4"/>
<rect x="258" y="780" width="1" height="4"/>
<rect x="322" y="780" width="1" height="4"/>
<rect x="386" y="780" width="1" height="4"/>
<rect x="450" y="780" width="1" height="4"/>
<rect x="514" y="780" width="1" height="4"/>
<rect x="578" y="780" width="1" height="4"/>
<rect x="642" y="780" width="1" height="4"/>
<rect x="706" y="780" width="1" height="4"/>
<rect x="770" y="780" width="1" height="4"/>
<rect x="834" y="780" width="1" height="4"/>
<rect x="898" y="780" width="1" height="4"/>
<rect x="962" y="780" width="1" height="4"/>
<rect x="1026" y="780" width="1" height="4"/>
<rect x="1090" y="780" width="1" height="4"/>
</g>
<text x="1233" y="28.1" textLength="32.5" lengthAdjust="spacingAndGlyphs" style="fill:#000">5969.70</text>
<text x="1233" y="60.1" textLength="32.5" lengthAdjust="spacingAndGlyphs" style="fill:#000">5958.30</text>
<text x="1233" y="92.1" textLength="32.5" lengthAdjust="spacingAndGlyphs" style="fill:#000">5946.90</text>
<text x="1233" y="124.1" textLength="32.5" lengthAdjust="spacingAndGlyphs" style="fill:#000">5935.50</text>
<text x="1233" y="156.1" textLength="32.5" lengthAdjust="spacingAndGlyphs" style="fill:#000">5924.10</text>
<text x="1233" y="188.1" textLength="32.5" lengthAdjust="spacingAndGlyphs" style="fill:#000">5912.70</text>
<text x="1233" y="220.1" textLength="32.5" lengthAdjust="spacingAndGlyphs" style="fill:#000">5901.30</text>
<text x="1233" y="252.1" textLength="32.5" lengthAdjust="spacingAndGlyphs" style="fill:#000">5889.90</text>
<text x="1233" y="284.1" textLength="32.5" lengthAdjust="spacingAndGlyphs" style="fill:#000">5878.50</text>
<text x="1233" y="316.1" textLength="32.5" lengthAdjust="spacingAndGlyphs" style="fill:#000">5867.10</text>
<text x="1233" y="348.1" textLength="32.5" lengthAdjust="spacingAndGlyphs" style="fill:#000">5855.70</text>
<text x="1233" y="380.1" textLength="32.5" lengthAdjust="spacingAndGlyphs" style="fill:#000">5844.30</text>
<text x="1233" y="412.1" textLength="32.5" lengthAdjust="spacingAndGlyphs" style="fill:#000">5832.90</text>
<text x="1233" y="444.1" textLength="32.5" lengthAdjust="spacingAndGlyphs" style="fill:#000">5821.50</text>
<rect x="1230" y="457" width="39" height="11" fill="#d00000" shape-rendering="crispEdges"/>
<text x="1233" y="465.1" textLength="32.5" lengthAdjust="spacingAndGlyphs" style="fill:#fff;stroke:#fff">5814.08</text>
<text x="1233" y="483.5" textLength="27.5" lengthAdjust="spacingAndGlyphs" style="fill:#000">48.749</text>
<text x="1233" y="516.5" textLength="22.5" lengthAdjust="spacingAndGlyphs" style="fill:#000">0.000</text>
<text x="1233" y="572.5" textLength="30.5" lengthAdjust="spacingAndGlyphs" style="fill:#000">-77.217</text>
<text x="1233" y="585.5" textLength="32.5" lengthAdjust="spacingAndGlyphs" style="fill:#000">27.3771</text>
<text x="1233" y="626.5" textLength="27.5" lengthAdjust="spacingAndGlyphs" style="fill:#000">0.0000</text>
<text x="1233" y="674.5" textLength="35.5" lengthAdjust="spacingAndGlyphs" style="fill:#000">-31.2515</text>
<text x="1233" y="687.5" textLength="27.5" lengthAdjust="spacingAndGlyphs" style="fill:#000">34.743</text>
<text x="1233" y="732.5" textLength="22.5" lengthAdjust="spacingAndGlyphs" style="fill:#000">0.000</text>
<text x="1233" y="776.5" textLength="30.5" lengthAdjust="spacingAndGlyphs" style="fill:#000">-33.941</text>
<text x="6" y="488" textLength="64" lengthAdjust="spacingAndGlyphs">AOcust -35.285</text>
<text x="6" y="590" textLength="63" lengthAdjust="spacingAndGlyphs">ACcust -0.7220</text>
<text x="6" y="692" textLength="106" lengthAdjust="spacingAndGlyphs">GatorCust 19.508 -13.647</text>
<text x="2" y="792" textLength="54" lengthAdjust="spacingAndGlyphs">14 May 2025</text>
<text x="66" y="792" textLength="57" lengthAdjust="spacingAndGlyphs">15 May 01:00</text>
<text x="130" y="792" textLength="57" lengthAdjust="spacingAndGlyphs">15 May 09:00</text>
<text x="194" y="792" textLength="57" lengthAdjust="spacingAndGlyphs">15 May 17:00</text>
<text x="258" y="792" textLength="57" lengthAdjust="spacingAndGlyphs">16 May 02:00</text>
<text x="322" y="792" textLength="57" lengthAdjust="spacingAndGlyphs">16 May 10:00</text>
<text x="386" y="792" textLength="57" lengthAdjust="spacingAndGlyphs">16 May 18:00</text>
<text x="450" y="792" textLength="57" lengthAdjust="spacingAndGlyphs">19 May 03:00</text>
<text x="514" y="792" textLength="57" lengthAdjust="spacingAndGlyphs">19 May 11:00</text>
<text x="578" y="792" textLength="57" lengthAdjust="spacingAndGlyphs">19 May 19:00</text>
<text x="642" y="792" textLength="57" lengthAdjust="spacingAndGlyphs">20 May 04:00</text>
<text x="706" y="792" textLength="57" lengthAdjust="spacingAndGlyphs">20 May 12:00</text>
<text x="770" y="792" textLength="57" lengthAdjust="spacingAndGlyphs">20 May 20:00</text>
<text x="834" y="792" textLength="57" lengthAdjust="spacingAndGlyphs">21 May 05:00</text>
<text x="898" y="792" textLength="57" lengthAdjust="spacingAndGlyphs">21 May 13:00</text>
<text x="962" y="792" textLength="57" lengthAdjust="spacingAndGlyphs">21 May 21:00</text>
<text x="1026" y="792" textLength="57" lengthAdjust="spacingAndGlyphs">22 May 06:00</text>
<text x="1090" y="792" textLength="57" lengthAdjust="spacingAndGlyphs">22 May 14:00</text>
</svg></body></html>
